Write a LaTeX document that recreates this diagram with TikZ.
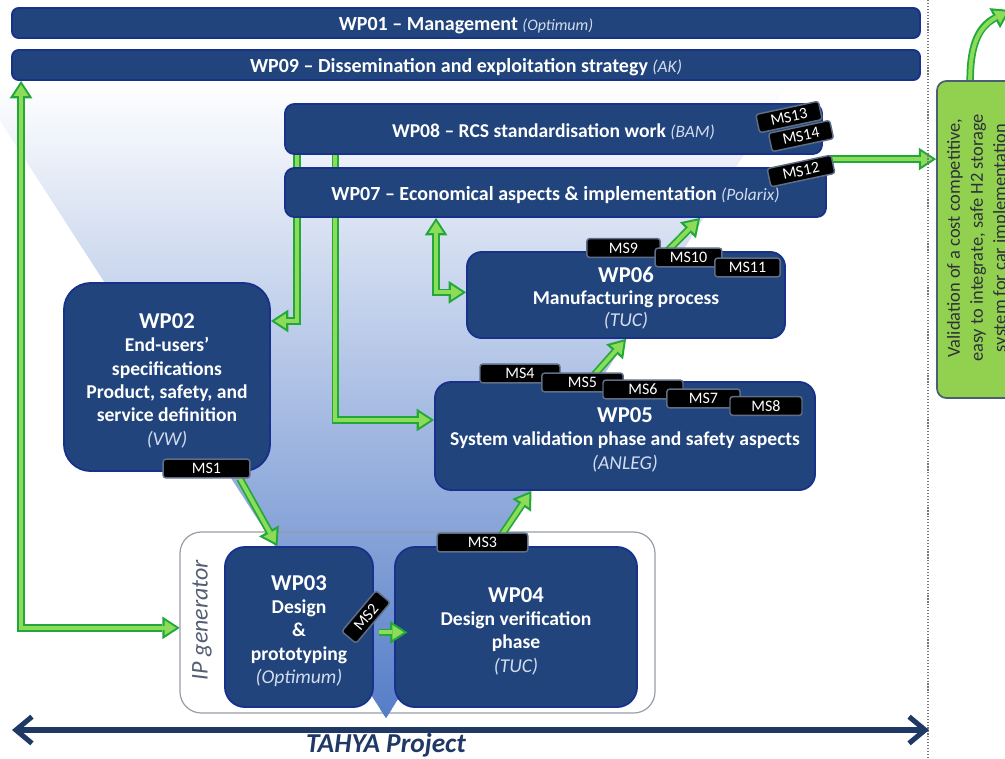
\documentclass[tikz,border=0pt]{standalone}
\usepackage{fontspec}
\setmainfont{Carlito}
\usetikzlibrary{arrows.meta}
\definecolor{wpfill}{RGB}{33,68,124}
\definecolor{wpline}{RGB}{24,50,140}
\definecolor{gdark}{RGB}{34,168,58}
\definecolor{glight}{RGB}{140,220,90}
\definecolor{navy}{RGB}{31,56,100}
\definecolor{funmid}{RGB}{192,206,240}
\definecolor{funbot}{RGB}{85,125,200}
\definecolor{outfill}{RGB}{146,208,80}
\definecolor{outrim}{RGB}{75,95,115}
\definecolor{tagrim}{RGB}{95,110,135}
\definecolor{soft}{RGB}{212,220,238}
\definecolor{ipgray}{RGB}{150,158,168}
\definecolor{iptext}{RGB}{85,95,115}
\definecolor{dotgray}{RGB}{120,120,120}
\definecolor{outtext}{RGB}{45,50,55}
\newcommand\wpowner[1]{{\mdseries\itshape\color{soft}#1}}
% title line of a work package; the strut lowers the whole text block a little
\newcommand\wptitle[1]{{\fontsize{17}{20}\selectfont\rule{0pt}{17pt}#1}}
\pgfdeclarelayer{bg}
\pgfdeclarelayer{links}
\pgfsetlayers{bg,links,main}
\tikzset{
  lift/.style={execute at begin node={\rule{0pt}{#1}}},
  wp/.style={draw=wpline, line width=1.4pt, fill=wpfill, text=white, inner sep=0pt, align=center},
  bar/.style={wp, rounded corners=5pt, lift=14.5pt, font=\bfseries\fontsize{15}{18}\selectfont},
  wpbox/.style={wp, font=\bfseries\fontsize{14.7}{17.5}\selectfont},
  tag/.style={draw=tagrim, line width=1.1pt, fill=black, text=white, rounded corners=2pt,
    minimum height=14pt, inner sep=0pt, font=\fontsize{12}{13}\selectfont},
  garrow/.style={draw=glight, line width=3pt, shorten >=2.74pt,
    -{Triangle[length=8.5pt,width=11pt,line width=0pt]},
    preaction={draw=gdark, line width=5.6pt, shorten >=0pt,
      -{Triangle[length=13pt,width=17pt,line width=0pt]}}},
  garrows/.style={draw=glight, line width=3pt, shorten >=2.74pt, shorten <=2.74pt,
    {Triangle[length=8.5pt,width=11pt,line width=0pt]}-{Triangle[length=8.5pt,width=11pt,line width=0pt]},
    preaction={draw=gdark, line width=5.6pt, shorten >=0pt, shorten <=0pt,
      {Triangle[length=13pt,width=17pt,line width=0pt]}-{Triangle[length=13pt,width=17pt,line width=0pt]}}},
  funnel/.style={top color=white, middle color=funmid, bottom color=funbot},
}
\begin{document}
\begin{tikzpicture}[x=0.75pt,y=-0.75pt]
\useasboundingbox (0,0) rectangle (1005,758);

% ---------- background: IP generator frame and the blue funnel ----------
\begin{pgfonlayer}{bg}
  \node[fill=white, rounded corners=16pt, inner sep=0pt, minimum width=356.25pt, minimum height=135.75pt]
    (ip) at (417.5,622.5) {};
  \shade[funnel] (-25,82) -- (790,82) -- (386,718) -- cycle;
  \node[draw=ipgray, line width=0.9pt, rounded corners=16pt, inner sep=0pt, minimum width=356.25pt, minimum height=135.75pt]
    (ipframe) at (ip.center) {};
  \begin{scope}
    \clip (360,709) rectangle (410,725);
    \shade[funnel] (-25,82) -- (790,82) -- (386,718) -- cycle;
  \end{scope}
  \node[rotate=90, text=iptext, font=\itshape\fontsize{18}{20}\selectfont] (iplabel) at (202,620) {IP generator};
\end{pgfonlayer}

% ---------- work packages ----------
\node[bar, minimum width=681pt, minimum height=22.5pt] (wp01) at (466,23)
  {WP01 – Management \wpowner{\fontsize{12}{14}\selectfont(Optimum)}};
\node[bar, minimum width=681pt, minimum height=22.5pt] (wp09) at (466,65)
  {WP09 – Dissemination and exploitation strategy \wpowner{\fontsize{13}{15}\selectfont(AK)}};
\node[bar, rounded corners=7pt, minimum width=402.75pt, minimum height=37.5pt,
      font=\bfseries\fontsize{14.7}{18}\selectfont] (wp08) at (553.5,129)
  {WP08 – RCS standardisation work \wpowner{\fontsize{13}{15}\selectfont(BAM)}};
\node[bar, rounded corners=7pt, minimum width=405.75pt, minimum height=36.75pt] (wp07) at (555.5,192.5)
  {WP07 – Economical aspects \& implementation \wpowner{\fontsize{13}{15}\selectfont(Polarix)}};

\node[wpbox, rounded corners=20pt, minimum width=154.5pt, minimum height=141pt] (wp02) at (167,377)
  {\wptitle{WP02}\\End-users’\\specifications\\Product, safety, and\\service definition\\\wpowner{(VW)}};
\node[wpbox, rounded corners=11pt, font=\bfseries\fontsize{14.7}{16.5}\selectfont,
      minimum width=238.5pt, minimum height=64.5pt] (wp06) at (626,295)
  {\wptitle{WP06}\\Manufacturing process\\\wpowner{(TUC)}};
\node[wpbox, rounded corners=12pt, minimum width=285pt, minimum height=81pt] (wp05) at (625,436)
  {\wptitle{WP05}\\System validation phase and safety aspects\\\wpowner{(ANLEG)}};
\node[wpbox, rounded corners=15pt, minimum width=111pt, minimum height=120pt] (wp03) at (299,627)
  {\wptitle{WP03}\\Design\\\&\\prototyping\\\wpowner{(Optimum)}};
\node[wpbox, rounded corners=15pt, minimum width=181.5pt, minimum height=120pt] (wp04) at (516,627)
  {\wptitle{WP04}\\Design verification\\phase\\\wpowner{(TUC)}};

% ---------- outcome box ----------
\node[draw=outrim, line width=1.3pt, fill=outfill, rounded corners=7pt, inner sep=0pt,
      minimum width=69.75pt, minimum height=237.75pt] (out) at (983.5,239.5) {};
\node[rotate=90, align=center, text=outtext, font=\fontsize{13.8}{17.25}\selectfont] (outtxt) at (978,238)
  {Validation of a cost competitive,\\easy to integrate,  safe H2 storage\\system for car implementation};

% ---------- milestones ----------
\node[tag, minimum width=65pt] (ms1) at (206.5,468.5) {MS1};
\node[tag, minimum width=68pt] (ms3) at (482.5,542.5) {MS3};
\node[tag, minimum width=60pt] (ms4) at (520,373.5) {MS4};
\node[tag, minimum width=61pt] (ms5) at (582.5,382.5) {MS5};
\node[tag, minimum width=60pt] (ms6) at (643,389.5) {MS6};
\node[tag, minimum width=55pt] (ms7) at (703.5,398.5) {MS7};
\node[tag, minimum width=54pt] (ms8) at (766,406) {MS8};
\node[tag, minimum width=55pt] (ms9) at (623.5,248) {MS9};
\node[tag, minimum width=50pt] (ms10) at (688.5,257.5) {MS10};
\node[tag, minimum width=49pt] (ms11) at (747.5,267.5) {MS11};
\node[tag, minimum width=48pt, rotate=12] (ms13) at (789,117) {MS13};
\node[tag, minimum width=47pt, rotate=12] (ms14) at (801,136) {MS14};
\node[tag, minimum width=49pt, rotate=12] (ms12) at (801,171) {MS12};

% ---------- green links (behind boxes) ----------
\begin{pgfonlayer}{links}
  \draw[garrows] ([xshift=7.5pt]wp09.south west) |- ([yshift=-4pt]ip.west);
  \draw[garrow] ([xshift=9.75pt]wp08.south west) |- ([yshift=42pt]wp02.east);
  \draw[garrow] ([xshift=38.5pt]wp08.south west) |- ([yshift=12pt]wp05.west);
  \draw[garrows] ([xshift=114pt]wp07.south west) |- ([yshift=2pt]wp06.west);
  \draw[garrow] ([xshift=151pt]wp06.north west) -- ([xshift=312pt]wp07.south west);
  \draw[garrow] ([xshift=116pt]wp05.north west) -- ([xshift=120pt]wp06.south west);
  \draw[garrow] ([xshift=75pt]wp04.north west) -- ([xshift=73pt]wp05.south west);
  \draw[garrow] ([xshift=25pt]ms1.south) -- ([xshift=40pt]wp03.north west);
  \coordinate (e7) at ([yshift=6pt]wp07.north east);
  \draw[garrow] (e7) -- (e7 -| out.west);
  \coordinate (beyond) at (1010,10);
  \draw[garrow] ([xshift=-10pt]out.north) .. controls +(0,-38) and +(-30,16) .. (beyond);
\end{pgfonlayer}

% design to verification, on top of WP04
\draw[garrow] ([xshift=4pt,yshift=-4pt]wp03.east) -- ([xshift=10pt,yshift=-4pt]wp04.west);
\node[tag, minimum width=40pt, rotate=50] (ms2) at (366,617) {MS2};

% ---------- project time line ----------
\draw[dotgray, line width=0.9pt, dash pattern=on 0.9pt off 1.3pt] (928,0) coordinate (dtop) -- (928,758) coordinate (dbot);
\coordinate (tl) at (12,730);
\coordinate (tr) at (929,730);
\draw[navy, line width=3.8pt, {Straight Barb[length=12pt,width=20pt]}-{Straight Barb[length=12pt,width=20pt]}] (tl) -- (tr);
\node[text=navy, font=\bfseries\itshape\fontsize{20.5}{22}\selectfont] (proj) at (386,745) {TAHYA Project};
\end{tikzpicture}
\end{document}
